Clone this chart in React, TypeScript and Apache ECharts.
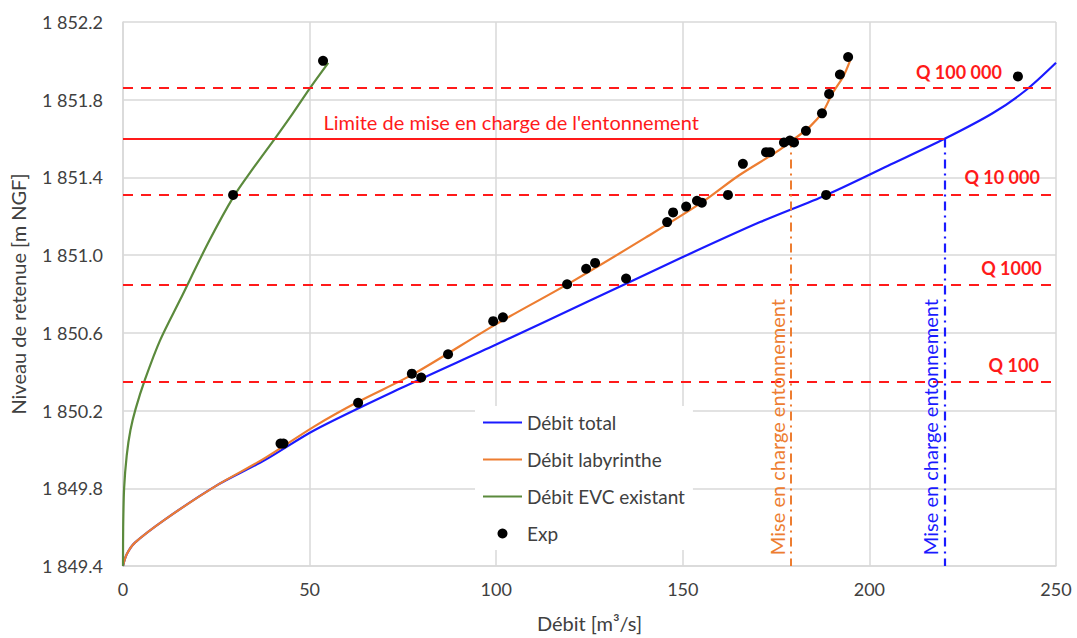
import React, { useEffect, useRef } from "react";
import * as echarts from "echarts";

// Axis base level (y axis starts here)
const Y0 = 1849.4;
const yTop = 1852.2;
const xMax = 250;

// Curves [débit m³/s, niveau m NGF]
const debitTotal: number[][] = [
  [0, 1849.4], [1, 1849.46], [3.2, 1849.52], [11.3, 1849.64], [24.7, 1849.81],
  [38, 1849.945], [51.4, 1850.1], [75, 1850.32], [100, 1850.54], [125, 1850.765],
  [150, 1850.99], [170.7, 1851.17], [188.5, 1851.31], [205, 1851.46], [220.3, 1851.6],
  [233, 1851.73], [242, 1851.85], [250, 1851.99],
];
const debitLabyrinthe: number[][] = [
  [0, 1849.4], [1, 1849.46], [3.2, 1849.52], [11.3, 1849.64], [24.7, 1849.81],
  [38, 1849.955], [51.4, 1850.12], [63, 1850.245], [78, 1850.39], [100, 1850.645],
  [120, 1850.86], [140, 1851.09], [155, 1851.27], [165, 1851.41], [175, 1851.53],
  [180, 1851.6], [184, 1851.66], [187.6, 1851.74], [190, 1851.83], [193, 1851.92],
  [194.8, 1852.0],
];
const debitEVC: number[][] = [
  [0, 1849.4], [0.05, 1849.6], [0.3, 1849.8], [1.0, 1849.97], [2.0, 1850.1],
  [3.4, 1850.21], [5.9, 1850.36], [9.9, 1850.56], [15.3, 1850.77], [23, 1851.07],
  [29.6, 1851.3], [35, 1851.45], [40.7, 1851.6], [45.5, 1851.73], [50.1, 1851.86],
  [55, 1851.99],
];
const expPoints: number[][] = [
  [29.5, 1851.31], [53.6, 1852.0], [42.2, 1850.03], [43.0, 1850.03], [63, 1850.24],
  [77.4, 1850.39], [79.9, 1850.37], [87.1, 1850.49], [99.2, 1850.66], [101.8, 1850.68],
  [119, 1850.85], [124.1, 1850.93], [126.5, 1850.96], [134.8, 1850.88], [145.8, 1851.17],
  [147.4, 1851.22], [150.9, 1851.25], [153.8, 1851.28], [155.1, 1851.27], [162.1, 1851.31],
  [166.1, 1851.47], [172.3, 1851.53], [173.4, 1851.53], [177.1, 1851.58], [178.7, 1851.59],
  [179.8, 1851.58], [183, 1851.64], [187.3, 1851.73], [188.4, 1851.31], [189.2, 1851.83],
  [192.1, 1851.93], [194.3, 1852.02], [239.8, 1851.92],
];

// Return-period levels
const qLabels = ["Q 100 000", "Q 10 000", "Q 1000", "Q 100"];
const qLevels = [1851.86, 1851.31, 1850.85, 1850.35];
const qLabelAnchors: number[][] = [
  [235.5, 1851.942], [245.7, 1851.402], [246.2, 1850.934], [245.4, 1850.434],
];

const limitLevel = 1851.6;
const limitEndDebit = 220.3;
const limitLabel = "Limite de mise en charge de l'entonnement";
const limitLabelAnchor = [104, 1851.685];

const onsetLabyrinthe = 179;
const onsetTotal = 220.3;
const onsetLabel = "Mise en charge entonnement";
const onsetLabelAnchors: number[][] = [[175.2, 1850.115], [216.2, 1850.115]];

const seriesNames = ["Débit total", "Débit labyrinthe", "Débit EVC existant", "Exp"];

const BLUE = "#1a1aff";
const ORANGE = "#ed7d31";
const GREEN = "#5b8a3c";
const RED = "#ff1a1a";
const FONT = "Lato";

// thin horizontal bar centred in a 39x10 box (outer move-tos fix the bounding box)
const LINE_ICON = "path://M0,0L0,0M0,4L39,4L39,6L0,6ZM0,10L0,10";

const sh = (pts: number[][]) => pts.map(([x, y]) => [x, y - Y0]);
const fmtY = (v: number) => (v + Y0).toFixed(1).replace(/^(\d)(\d{3})/, "$1 $2");

export default function App() {
  const ref = useRef<HTMLDivElement>(null);
  useEffect(() => {
    if (!ref.current) return;
    const chart = echarts.init(ref.current, undefined, { renderer: "svg" });
    const grid = "#d9d9d9";
    const option: any = {
      animation: false,
      textStyle: { fontFamily: FONT },
      grid: { left: 123, right: 21, top: 22, bottom: 72 },
      legend: {
        data: seriesNames.map((n) =>
          n === "Exp" ? { name: n, icon: "circle" } : { name: n, icon: LINE_ICON }
        ),
        orient: "vertical",
        left: 475,
        top: 406,
        padding: [7, 8, 7, 8],
        itemWidth: 39,
        itemHeight: 10,
        itemGap: 18,
        backgroundColor: "#ffffff",
        textStyle: { fontFamily: FONT, fontSize: 19, color: "#404040" },
      },
      xAxis: {
        type: "value",
        min: 0,
        max: xMax,
        interval: 50,
        name: "Débit [m³/s]",
        nameLocation: "middle",
        nameGap: 47,
        nameTextStyle: { fontFamily: FONT, fontSize: 20, color: "#404040" },
        axisLine: { show: true, lineStyle: { color: grid, width: 1.5 } },
        axisTick: { show: false },
        axisLabel: { color: "#404040", fontSize: 18, fontFamily: FONT, margin: 14 },
        splitLine: { show: true, lineStyle: { color: grid, width: 1.5 } },
      },
      yAxis: {
        type: "value",
        min: 0,
        max: +(yTop - Y0).toFixed(1),
        interval: 0.4,
        name: "Niveau de retenue [m NGF]",
        nameLocation: "middle",
        nameGap: 95,
        nameTextStyle: { fontFamily: FONT, fontSize: 20, color: "#404040" },
        axisLine: { show: true, lineStyle: { color: grid, width: 1.5 } },
        axisTick: { show: false },
        axisLabel: {
          color: "#404040",
          fontSize: 18,
          fontFamily: FONT,
          margin: 20,
          formatter: (v: number) => fmtY(v),
        },
        splitLine: { show: true, lineStyle: { color: grid, width: 1.5 } },
      },
      series: [
        {
          name: seriesNames[0],
          type: "line",
          data: sh(debitTotal),
          symbol: "none",
          smooth: 0.3,
          lineStyle: { color: BLUE, width: 2.2 },
          itemStyle: { color: BLUE },
          z: 3,
          markLine: {
            silent: true,
            symbol: ["none", "none"],
            label: { show: false },
            data: [
              ...qLevels.map((v) => ({
                yAxis: v - Y0,
                lineStyle: { color: RED, width: 2, type: [10, 8] },
              })),
              [
                { coord: [0, limitLevel - Y0], lineStyle: { color: RED, width: 2, type: "solid" } },
                { coord: [limitEndDebit, limitLevel - Y0] },
              ],
              [
                { coord: [onsetLabyrinthe, limitLevel - Y0], lineStyle: { color: ORANGE, width: 2, type: [9, 5, 2, 5] } },
                { coord: [onsetLabyrinthe, 0] },
              ],
              [
                { coord: [onsetTotal, limitLevel - Y0], lineStyle: { color: BLUE, width: 2.2, type: [9, 5, 2, 5] } },
                { coord: [onsetTotal, 0] },
              ],
            ],
          },
          markPoint: {
            silent: true,
            symbol: "circle",
            symbolSize: 0,
            data: [
              ...qLabels.map((t, i) => ({
                coord: [qLabelAnchors[i][0], qLabelAnchors[i][1] - Y0],
                label: {
                  show: true,
                  formatter: t,
                  position: "left",
                  distance: 0,
                  color: RED,
                  fontWeight: "bold",
                  fontSize: 18,
                  fontFamily: FONT,
                },
              })),
              {
                coord: [limitLabelAnchor[0], limitLabelAnchor[1] - Y0],
                label: {
                  show: true,
                  formatter: limitLabel,
                  position: "inside",
                  color: RED,
                  fontSize: 20,
                  fontFamily: FONT,
                },
              },
              ...onsetLabelAnchors.map((a, i) => ({
                coord: [a[0], a[1] - Y0],
                label: {
                  show: true,
                  formatter: onsetLabel,
                  position: "inside",
                  rotate: 90,
                  color: i === 0 ? ORANGE : BLUE,
                  fontSize: 20,
                  fontFamily: FONT,
                },
              })),
            ],
          },
        },
        {
          name: seriesNames[1],
          type: "line",
          data: sh(debitLabyrinthe),
          symbol: "none",
          smooth: 0.3,
          lineStyle: { color: ORANGE, width: 2.2 },
          itemStyle: { color: ORANGE },
          z: 4,
        },
        {
          name: seriesNames[2],
          type: "line",
          data: sh(debitEVC),
          symbol: "none",
          smooth: 0.3,
          lineStyle: { color: GREEN, width: 2.2 },
          itemStyle: { color: GREEN },
          z: 4,
        },
        {
          name: seriesNames[3],
          type: "scatter",
          data: sh(expPoints),
          symbol: "circle",
          symbolSize: 10,
          itemStyle: { color: "#000000", opacity: 1 },
          z: 6,
        },
      ],
    };
    chart.setOption(option);
    return () => chart.dispose();
  }, []);
  return (
    <div
      ref={ref}
      style={{ position: "absolute", left: 0, top: 0, width: 1077, height: 638, background: "#ffffff" }}
    />
  );
}
